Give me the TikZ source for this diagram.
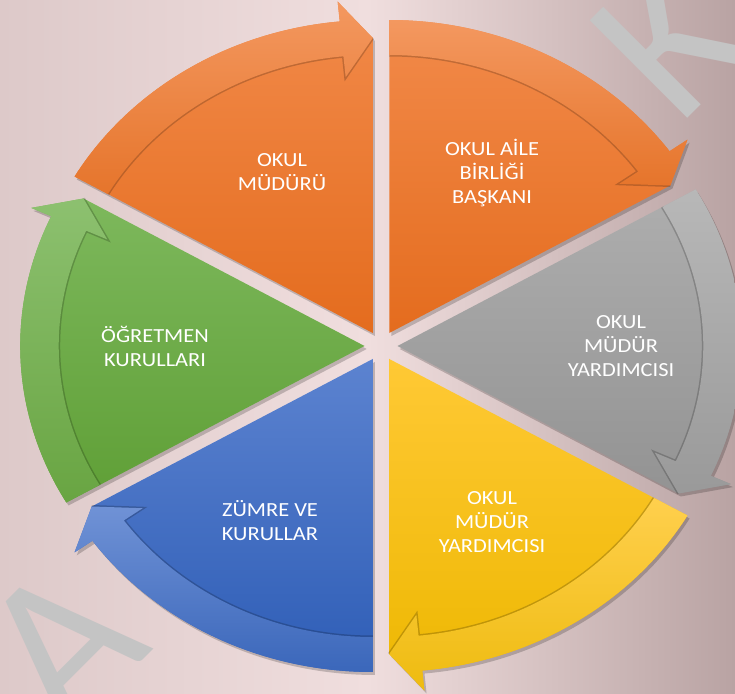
\documentclass[tikz,border=0pt]{standalone}
\usepackage{fontspec}
\setmainfont{Carlito}
\usetikzlibrary{shadows}
\definecolor{bgL}{HTML}{DDC9C9}
\definecolor{bgM}{HTML}{F0DEDE}
\definecolor{bgR}{HTML}{B9A3A3}
\definecolor{wm}{HTML}{C4C4C4}
\definecolor{orT}{HTML}{F28A4A}
\definecolor{orB}{HTML}{E46C1E}
\definecolor{grT}{HTML}{AEAEAE}
\definecolor{grB}{HTML}{939393}
\definecolor{yeT}{HTML}{FFC935}
\definecolor{yeB}{HTML}{EDB700}
\definecolor{blT}{HTML}{5C83D0}
\definecolor{blB}{HTML}{2E5DB6}
\definecolor{gnT}{HTML}{7DB85C}
\definecolor{gnB}{HTML}{5F9F36}
\tikzset{
  lbl/.style={text=white, align=center, font=\fontsize{20}{24}\selectfont, inner sep=0pt, xscale=1.12},
  wmk/.style={text=wm, font=\fontsize{215}{215}\selectfont, inner sep=0pt, rotate=45},
  wshadow/.style={fill=black, opacity=0.2},
  bandshadow/.style={draw=black, opacity=0.2, line width=3pt}
}
\begin{document}
\begin{tikzpicture}[x=1pt,y=1pt]
\useasboundingbox (0,0) rectangle (735,693);
\shade[left color=bgL, right color=bgR, middle color=bgM] (0,0) rectangle (735,693);
\node[wmk, anchor=base] (wmA) at (110,0) {A};
\node[wmk, anchor=base west] (wmK) at (678,565) {K};
\begin{scope}[shift={(381,347)}, xscale=1.1]
\def\Rin{278}\def\Rout{313}\def\Rm{295}\def\Ro{333}\def\Ri{257}\def\dl{5.5}
% shadows
\foreach \t in {120,60,0,-60,-120,180}{
  \pgfmathsetmacro\angA{\t+30}
  \pgfmathsetmacro\angB{\t-30}
  \pgfmathsetmacro\angH{\t-30+\dl}
  \begin{scope}[shift={(\t:15)}]
    \fill[wshadow, shift={(2,-3)}] (0,0) -- (\angA:\Rout) arc[start angle=\angA, end angle=\angH, radius=\Rout] -- (\angH:\Ro) -- (\angB:\Rm) -- cycle;
  \end{scope}
}
% wedges
\foreach \t/\ct/\cb in {120/orT/orB, 60/orT/orB, 0/grT/grB, -60/yeT/yeB, -120/blT/blB, 180/gnT/gnB}{
  \pgfmathsetmacro\angA{\t+30}
  \pgfmathsetmacro\angB{\t-30}
  \pgfmathsetmacro\angH{\t-30+\dl}
  \begin{scope}[shift={(\t:15)}]
    \shade[top color=\ct, bottom color=\cb] (0,0) -- (\angA:\Rout) arc[start angle=\angA, end angle=\angH, radius=\Rout] -- (\angH:\Ro) -- (\angB:\Rm) -- cycle;
    \draw[bandshadow] (\angB:\Rm) -- (\angH:\Ri) -- (\angH:\Rin) arc[start angle=\angH, end angle=\angA, radius=\Rin];
    \shade[top color=\ct!88!white, bottom color=\cb!94!white] (\angA:\Rin) -- (\angA:\Rout) arc[start angle=\angA, end angle=\angH, radius=\Rout] -- (\angH:\Ro) -- (\angB:\Rm) -- (\angH:\Ri) -- (\angH:\Rin) arc[start angle=\angH, end angle=\angA, radius=\Rin] -- cycle;
  \end{scope}
}
\end{scope}
\node[lbl] (t1) at (282,521) {OKUL\\MÜDÜRÜ};
\node[lbl] (t2) at (492,520) {OKUL AİLE\\BİRLİĞİ\\BAŞKANI};
\node[lbl] (t3) at (621,347) {OKUL\\MÜDÜR\\YARDIMCISI};
\node[lbl] (t4) at (492,171) {OKUL\\MÜDÜR\\YARDIMCISI};
\node[lbl] (t5) at (270,172) {ZÜMRE VE\\KURULLAR};
\node[lbl] (t6) at (155,347) {ÖĞRETMEN\\KURULLARI};
\end{tikzpicture}
\end{document}
